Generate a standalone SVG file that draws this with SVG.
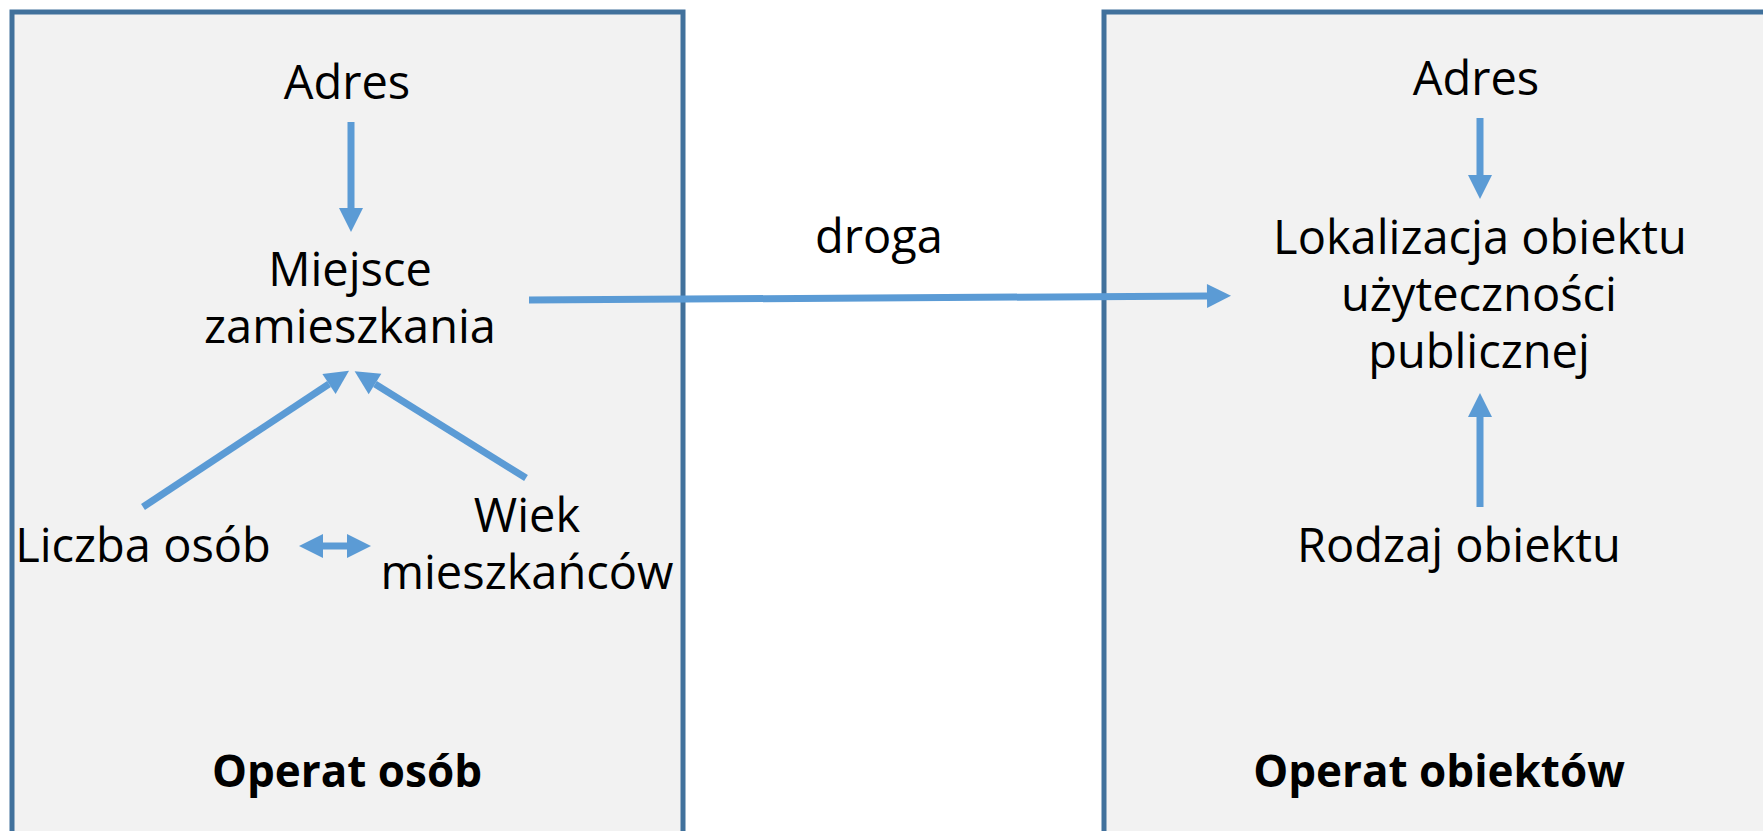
<svg xmlns="http://www.w3.org/2000/svg" width="1763" height="831" viewBox="0 0 1763 831">
<defs>
<style>
.box{fill:#f2f2f2;stroke:#41719c;stroke-width:5}
.t{font-family:"Open Sans","Noto Sans",sans-serif;font-size:47px;fill:#000;text-anchor:middle}
.b{font-weight:bold;font-size:44px}
.c{stroke:#5b9bd5;stroke-width:7;fill:none}
</style>
<marker id="ah" markerUnits="userSpaceOnUse" markerWidth="24" markerHeight="24" refX="0" refY="12" orient="auto-start-reverse" overflow="visible">
<path d="M0,0 L24,12 L0,24 z" fill="#5b9bd5"/>
</marker>
</defs>
<rect width="1763" height="831" fill="#ffffff"/>
<g id="operat-osob">
<rect class="box" x="12" y="12" width="671" height="840"/>
<text class="t b" x="347" y="787">Operat osób</text>
</g>
<g id="operat-obiektow">
<rect class="box" x="1104" y="12" width="700" height="840"/>
<text class="t b" x="1439" y="787">Operat obiektów</text>
</g>
<g id="adres-1"><text class="t" x="347" y="99">Adres</text></g>
<g id="miejsce"><text class="t" x="350" y="286">Miejsce<tspan x="350" dy="57">zamieszkania</tspan></text></g>
<g id="liczba"><text class="t" x="143" y="562">Liczba osób</text></g>
<g id="wiek"><text class="t" x="527" y="532">Wiek<tspan x="527" dy="57">mieszkańców</tspan></text></g>
<g id="adres-2"><text class="t" x="1476" y="95">Adres</text></g>
<g id="lokalizacja"><text class="t" x="1480" y="254">Lokalizacja obiektu<tspan x="1479" dy="57">użyteczności</tspan><tspan x="1479" dy="57">publicznej</tspan></text></g>
<g id="rodzaj"><text class="t" x="1459" y="562">Rodzaj obiektu</text></g>
<g id="droga-label"><text class="t" x="879" y="253">droga</text></g>
<g id="connectors">
<line class="c" x1="351" y1="122" x2="351" y2="208" marker-end="url(#ah)"/>
<line class="c" x1="143" y1="507" x2="329" y2="384" marker-end="url(#ah)"/>
<line class="c" x1="526" y1="478" x2="375" y2="384" marker-end="url(#ah)"/>
<line class="c" x1="323" y1="546" x2="347" y2="546" marker-start="url(#ah)" marker-end="url(#ah)"/>
<line class="c" x1="529" y1="300" x2="1207" y2="296" marker-end="url(#ah)"/>
<line class="c" x1="1480" y1="118" x2="1480" y2="175" marker-end="url(#ah)"/>
<line class="c" x1="1480" y1="507" x2="1480" y2="417" marker-end="url(#ah)"/>
</g>
</svg>
